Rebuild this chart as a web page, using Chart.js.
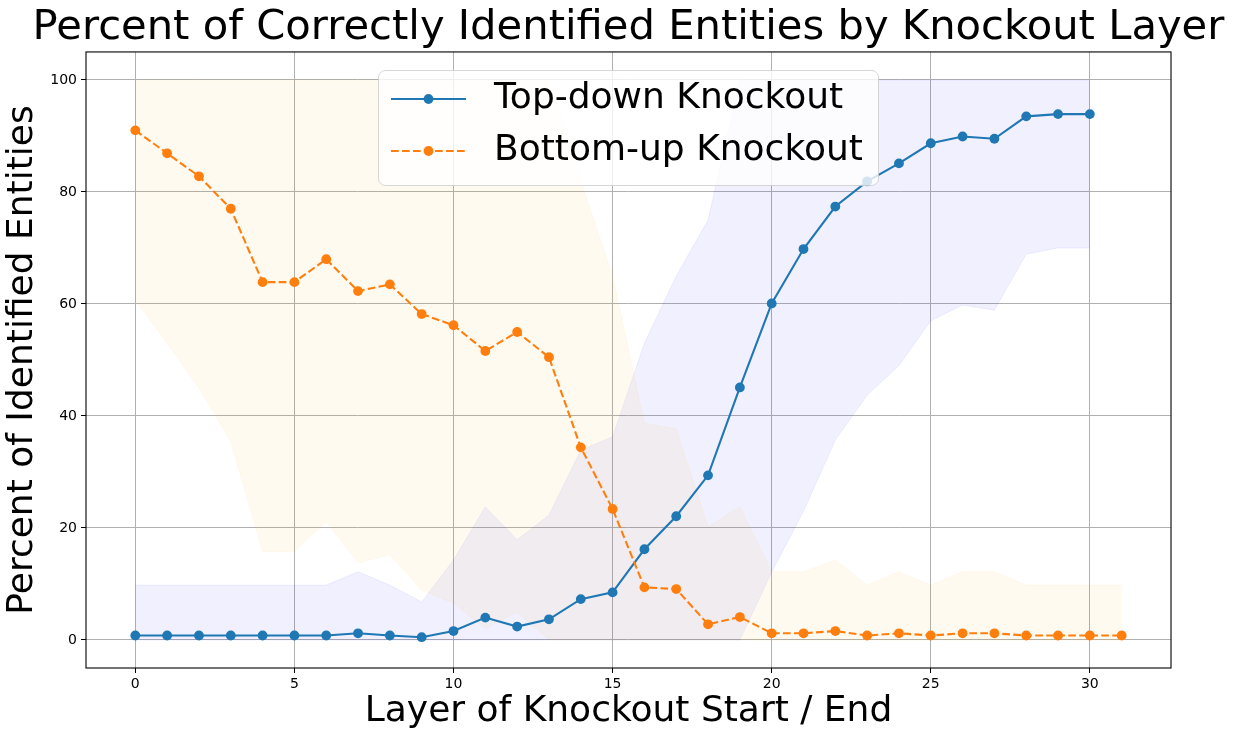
<!DOCTYPE html>
<html>
<head>
<meta charset="utf-8">
<script src="https://cdn.jsdelivr.net/npm/chart.js@4.4.0/dist/chart.umd.min.js"></script>
<style>
  html, body { margin: 0; padding: 0; background: #fff; }
  #wrap { width: 1233px; height: 741px; }
</style>
</head>
<body>
<div id="wrap"><canvas id="chart" width="1233" height="741"></canvas></div>
<script>
// layers of the model (x axis)
const layers = [0, 1, 2, 3, 4, 5, 6, 7, 8, 9, 10, 11, 12, 13, 14, 15,
                16, 17, 18, 19, 20, 21, 22, 23, 24, 25, 26, 27, 28, 29, 30, 31];

// top-down knockout: mean and band (layers 0..30)
const topDown = [0.8, 0.8, 0.8, 0.8, 0.8, 0.8, 0.8, 1.2, 0.8, 0.5, 1.6, 4.0, 2.4, 3.7, 7.3, 8.5,
                 16.2, 22.1, 29.4, 45.1, 60.1, 69.8, 77.4, 81.9, 85.1, 88.7, 89.9, 89.5, 93.5, 93.9, 93.9];
const topDownLow = [0, 0, 0, 0, 0, 0, 0, 0, 0, 0, 0, 0, 0, 0, 0, 0,
                    0, 0, 0, 0, 12.1, 23.0, 35.7, 43.7, 49.0, 57.0, 59.8, 58.9, 68.9, 70.0, 70.0];
const topDownHigh = [9.8, 9.8, 9.8, 9.8, 9.8, 9.8, 9.8, 12.2, 9.8, 6.8, 14.3, 23.8, 17.9, 22.3, 33.9, 36.3,
                     53.0, 65.0, 75.0, 100, 100, 100, 100, 100, 100, 100, 100, 100, 100, 100, 100];

// bottom-up knockout: mean and band (layers 0..31)
const bottomUp = [91.0, 86.9, 82.8, 77.0, 63.9, 63.9, 68.0, 62.3, 63.5, 58.2, 56.2, 51.6, 55.0, 50.5, 34.4, 23.4,
                  9.4, 9.1, 2.8, 4.1, 1.2, 1.2, 1.6, 0.8, 1.2, 0.8, 1.2, 1.2, 0.8, 0.8, 0.8, 0.8];
const bottomUpLow = [60.7, 53.0, 45.0, 35.4, 15.8, 15.8, 21.1, 13.8, 15.2, 8.9, 6.6, 2.0, 5.0, 0, 0, 0,
                     0, 0, 0, 0, 0, 0, 0, 0, 0, 0, 0, 0, 0, 0, 0, 0];
const bottomUpHigh = [100, 100, 100, 100, 100, 100, 100, 100, 100, 100, 100, 100, 100, 100, 82.0, 65.0,
                      38.7, 37.7, 20.2, 23.8, 12.2, 12.2, 14.3, 9.8, 12.2, 9.8, 12.2, 12.2, 9.8, 9.8, 9.8, 9.8];

const xTicks = [0, 5, 10, 15, 20, 25, 30];
const yTicks = [0, 20, 40, 60, 80, 100];

const BLUE = '#1f77b4';
const ORANGE = '#ff7f0e';
const BLUE_BAND = 'rgba(0, 0, 255, 0.06)';
const ORANGE_BAND = 'rgba(255, 165, 0, 0.06)';
const MARKER = 4.9;

Chart.defaults.font.family = 'DejaVu Sans';
Chart.defaults.color = '#000';

function pts(values) {
    return values.map((v, i) => ({ x: layers[i], y: v }));
}

function band(values, color, fill, order) {
    return {
        data: pts(values),
        borderColor: color,
        borderWidth: 1,
        backgroundColor: color,
        pointRadius: 0,
        fill: fill,
        order: order
    };
}

// center the title over the plot area (like matplotlib) instead of the canvas
const centerTitle = {
    id: 'centerTitle',
    afterLayout(chart) {
        const t = chart.titleBlock;
        const a = chart.chartArea;
        const c = (a.left + a.right) / 2;
        const half = Math.min(c, chart.width - c);
        t.left = c - half;
        t.right = c + half;
        t.width = half * 2;
    }
};

// frame + legend drawn after the lines
const frameAndLegend = {
    id: 'frameAndLegend',
    afterDatasetsDraw(chart) {
        const ctx = chart.ctx;
        const a = chart.chartArea;
        ctx.save();
        ctx.strokeStyle = '#000';
        ctx.lineWidth = 1.1;
        ctx.strokeRect(a.left, a.top, a.right - a.left, a.bottom - a.top);

        // legend box
        const bx = 378.5, by = 70.5, bw = 500, bh = 115, r = 7;
        ctx.beginPath();
        ctx.roundRect(bx, by, bw, bh, r);
        ctx.fillStyle = 'rgba(255,255,255,0.8)';
        ctx.fill();
        ctx.strokeStyle = 'rgba(204,204,204,0.8)';
        ctx.lineWidth = 1;
        ctx.stroke();

        const entries = [
            { label: 'Top-down Knockout', color: BLUE, dash: [], y: 99 },
            { label: 'Bottom-up Knockout', color: ORANGE, dash: [7.7, 3.3], y: 151 }
        ];
        entries.forEach(e => {
            ctx.beginPath();
            ctx.setLineDash(e.dash);
            ctx.strokeStyle = e.color;
            ctx.lineWidth = 2.1;
            ctx.moveTo(391, e.y);
            ctx.lineTo(466, e.y);
            ctx.stroke();
            ctx.setLineDash([]);
            ctx.beginPath();
            ctx.arc(428.5, e.y, MARKER, 0, Math.PI * 2);
            ctx.fillStyle = e.color;
            ctx.fill();
            ctx.fillStyle = '#000';
            ctx.font = '36px "DejaVu Sans"';
            ctx.textBaseline = 'middle';
            ctx.textAlign = 'left';
            ctx.fillText(e.label, 494, e.y);
        });
        ctx.restore();
    }
};

const ctx = document.getElementById('chart');
new Chart(ctx, {
    type: 'line',
    data: {
        datasets: [
            band(topDownLow, BLUE_BAND, false, 5),
            band(topDownHigh, BLUE_BAND, '-1', 4),
            band(bottomUpLow, ORANGE_BAND, false, 3),
            band(bottomUpHigh, ORANGE_BAND, '-1', 2),
            {
                label: 'Top-down Knockout',
                data: pts(topDown),
                borderColor: BLUE,
                backgroundColor: BLUE,
                borderWidth: 2.1,
                pointRadius: MARKER,
                pointBorderWidth: 0,
                pointBackgroundColor: BLUE,
                fill: false,
                order: 1
            },
            {
                label: 'Bottom-up Knockout',
                data: pts(bottomUp),
                borderColor: ORANGE,
                backgroundColor: ORANGE,
                borderWidth: 2.1,
                borderDash: [7.7, 3.3],
                pointRadius: MARKER,
                pointBorderWidth: 0,
                pointBackgroundColor: ORANGE,
                fill: false,
                order: 0
            }
        ]
    },
    options: {
        responsive: false,
        animation: false,
        devicePixelRatio: 1,
        layout: { padding: { left: 0, right: 62, top: 0, bottom: 0 } },
        plugins: {
            legend: { display: false },
            tooltip: { enabled: false },
            title: {
                display: true,
                text: 'Percent of Correctly Identified Entities by Knockout Layer',
                color: '#000',
                font: { size: 41.7, weight: 'normal', lineHeight: 1.15 },
                padding: { top: 4, bottom: 0 }
            }
        },
        scales: {
            x: {
                type: 'linear',
                min: -1.55,
                max: 32.55,
                afterBuildTicks: s => { s.ticks = xTicks.map(v => ({ value: v })); },
                afterFit: s => { s.height = 73; },
                ticks: { font: { size: 14 }, color: '#000', padding: 3, maxRotation: 0, autoSkip: false },
                grid: { color: '#b0b0b0', lineWidth: 1, tickColor: '#000', tickLength: 5 },
                border: { display: false },
                title: {
                    display: true,
                    text: 'Layer of Knockout Start / End',
                    color: '#000',
                    font: { size: 36 },
                    padding: { top: 0, bottom: 8 }
                }
            },
            y: {
                type: 'linear',
                min: -5,
                max: 105,
                afterBuildTicks: s => { s.ticks = yTicks.map(v => ({ value: v })); },
                afterFit: s => { s.width = 86; },
                ticks: { font: { size: 14 }, color: '#000', padding: 4 },
                grid: { color: '#b0b0b0', lineWidth: 1, tickColor: '#000', tickLength: 5 },
                border: { display: false },
                title: {
                    display: true,
                    text: 'Percent of Identified Entities',
                    color: '#000',
                    font: { size: 36 },
                    padding: { top: 1, bottom: 0 }
                }
            }
        }
    },
    plugins: [centerTitle, frameAndLegend]
});
</script>
</body>
</html>
